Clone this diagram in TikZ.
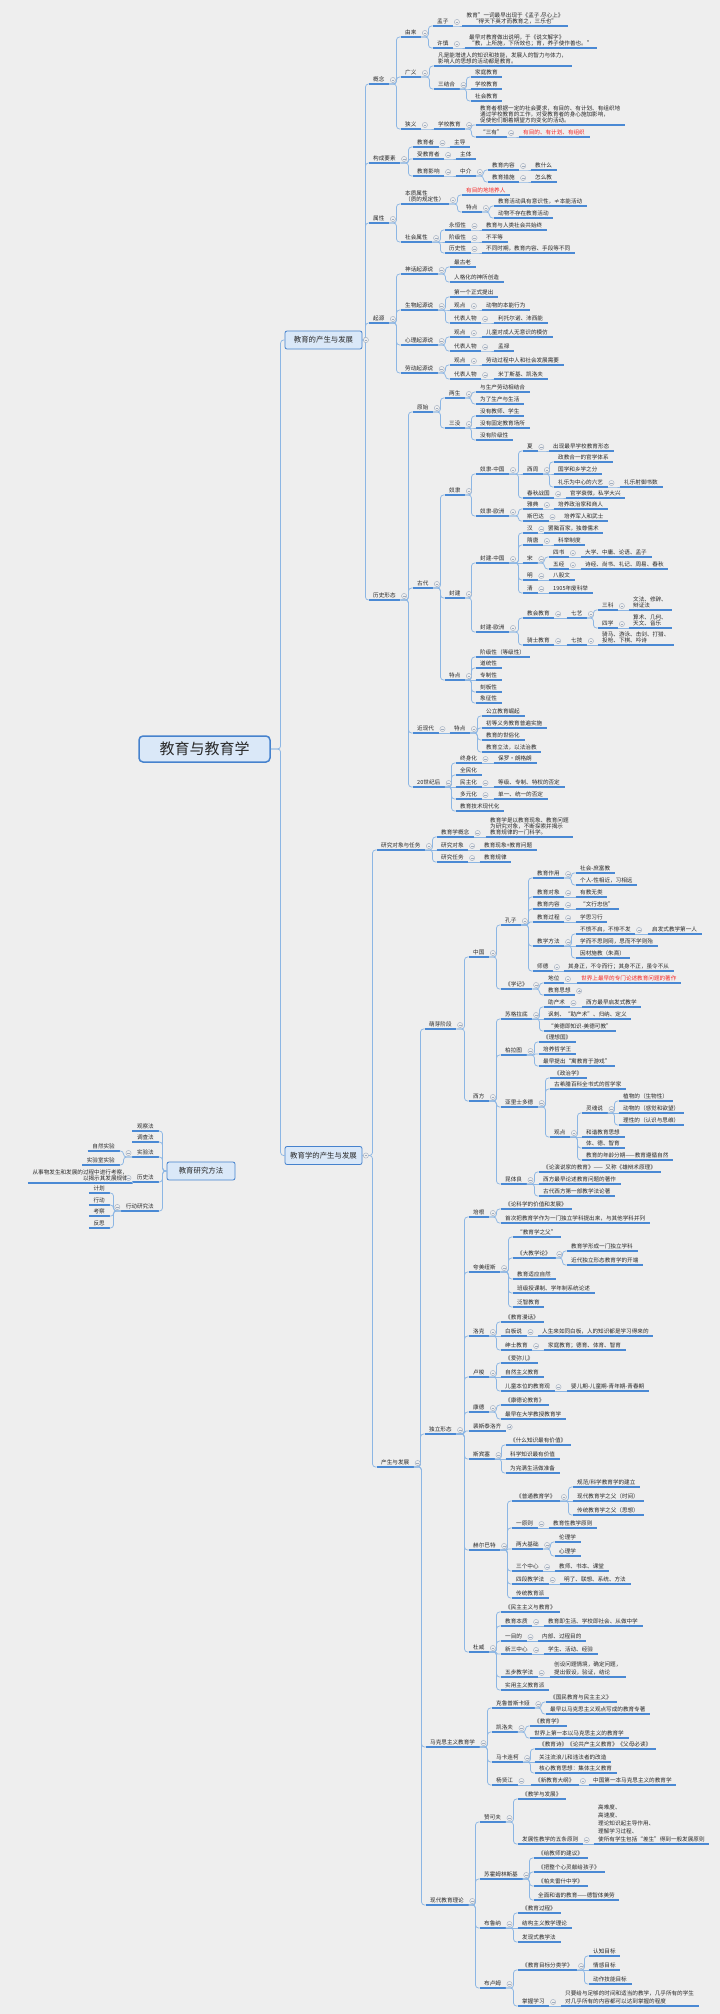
\documentclass[tikz,border=0pt]{standalone}
\usepackage{fontspec}
\setmainfont{Noto Sans CJK SC}
\usetikzlibrary{calc}
\definecolor{bg}{RGB}{238,238,238}
\definecolor{ulc}{RGB}{74,137,212}
\definecolor{cnc}{RGB}{140,182,228}
\definecolor{tgc}{RGB}{160,172,190}
\definecolor{boxf}{RGB}{218,232,248}
\definecolor{boxd}{RGB}{70,130,205}
\definecolor{redt}{RGB}{245,40,40}
\definecolor{txt}{RGB}{40,40,40}
\tikzset{
 nd/.style={inner xsep=4.5pt, inner ysep=1.8pt, text height=4.4pt, text depth=1pt, text=txt, font=\fontsize{5.6}{6}\selectfont},
 ml/.style={align=left, text height={}, text depth={}},
 mlw/.style={align=left, text height={}, text depth={}, font=\fontsize{5.6}{8}\selectfont},
 mc/.style={align=center, text height={}, text depth={}},
 mlr/.style={align=right, text height={}, text depth={}},
 rt/.style={text=redt},
 uline/.style={draw=ulc, line width=1.1pt},
 conn/.style={draw=cnc, line width=0.75pt},
 tgs/.style={draw=tgc, line width=0.4pt},
 lbox/.style={draw=boxd, fill=boxf, rounded corners=2pt, line width=0.8pt, inner xsep=4pt, inner ysep=3pt, minimum width=77pt, minimum height=18pt, text=txt, font=\fontsize{7.4}{8}\selectfont},
 cbox/.style={draw=boxd, fill=boxf, rounded corners=4pt, line width=1.5pt, minimum width=131pt, minimum height=26pt, text=txt, font=\fontsize{15}{16}\selectfont},
}
% node on the right side: #3 = text left x, #4 = underline y
\newcommand\nR[5][]{\node[nd,anchor=south west,#1] (#2) at ({#3-4.5},#4) {#5};\draw[uline] (#2.south west)--(#2.south east);}
% node on the left side: #3 = text right x
\newcommand\nL[5][]{\node[nd,anchor=south east,#1] (#2) at ({#3+4.5},#4) {#5};\draw[uline] (#2.south west)--(#2.south east);}
\newcommand\cnR[2]{\draw[conn] let \p1=(#1), \p2=(#2), \n2={min(4,((\x2)-(\x1))/2)}, \n1={min(3,abs((\y2)-(\y1))/2,\n2)} in (\p1) [rounded corners=\n1] -| ({\x2-\n2*1pt},\y2) -- (\p2);}
\newcommand\cnL[2]{\draw[conn] let \p1=(#1), \p2=(#2), \n2={min(4,((\x1)-(\x2))/2)}, \n1={min(3,abs((\y2)-(\y1))/2,\n2)} in (\p1) [rounded corners=\n1] -| ({\x2+\n2*1pt},\y2) -- (\p2);}
\newcommand\tgR[1]{\draw[tgs,fill=bg] ($(#1.south east)+(3.8,-4)$) circle (2.6pt); \draw[tgs] ($(#1.south east)+(2.4,-4)$) -- ++(2.8pt,0);}
\newcommand\tgP[1]{\tgR{#1}\draw[tgs] ($(#1.south east)+(3.8,-2.6)$) -- ++(0,2.8pt);}
\newcommand\tgL[1]{\draw[tgs,fill=bg] ($(#1.south west)+(-3.8,-4)$) circle (2.6pt); \draw[tgs] ($(#1.south west)+(-5.2,-4)$) -- ++(2.8pt,0);}
\newcommand\tgB[1]{\draw[tgs,fill=bg] ($(#1.east)+(3.5,0)$) circle (2.6pt); \draw[tgs] ($(#1.east)+(2.1,0)$) -- ++(2.8pt,0);}
\newcommand\kR[2]{\foreach \c in {#2}{\cnR{#1.south east}{\c.south west}}\tgR{#1}}
\newcommand\kL[2]{\foreach \c in {#2}{\cnL{#1.south west}{\c.south east}}\tgL{#1}}
\newcommand\kB[2]{\foreach \c in {#2}{\cnR{#1.east}{\c.south west}}\tgB{#1}}
\begin{document}
\begin{tikzpicture}[x=1pt,y=-1pt]
\fill[bg] (0,0) rectangle (720,2014);
\useasboundingbox (0,0) rectangle (720,2014);
% ---------- centre and main boxes
\node[cbox] (C0) at (204.5,749) {教育与教育学};
\node[lbox] (A0) at (323.5,340) {教育的产生与发展};
\node[lbox] (B0) at (323.5,1155.5) {教育学的产生与发展};
\node[lbox,minimum width=68pt] (L0) at (201,1171) {教育研究方法};
\cnR{C0.east}{A0.west}
\cnR{C0.east}{B0.west}
% ---------- group A
\nR{a1}{373}{84}{概念}
\nR{a11}{405}{37}{由来}
\nR{a111}{437}{26}{孟子}
\nR[mc]{a1111}{466.5}{26}{教育”一词最早出现于《孟子.尽心上》\\“得天下英才而教育之，三乐也”}
\nR{a112}{437}{48}{许慎}
\nR[ml]{a1121}{469}{48}{最早对教育做出说明，于《说文解字》\\“教，上所施，下所效也；育，养子使作善也。”}
\nR{a12}{405}{77}{广义}
\nR[ml]{a121}{438}{66}{凡是能增进人的知识和技能，发展人的智力与体力，\\影响人的思想的活动都是教育。}
\nR{a122}{438}{89}{三结合}
\nR{a1221}{475}{77}{家庭教育}
\nR{a1222}{475}{89}{学校教育}
\nR{a1223}{475}{101}{社会教育}
\nR{a13}{405}{129}{狭义}
\nR{a131}{438}{129}{学校教育}
\nR[ml]{a1311}{480}{125}{教育者根据一定的社会要求，有目的、有计划、有组织地\\通过学校教育的工作，对受教育者的身心施加影响，\\促使他们朝着期望方向变化的活动。}
\nR{a1312}{480}{137}{“三有”}
\nR[rt]{a13121}{523}{137}{有目的、有计划、有组织}
\nR{a2}{373}{163}{构成要素}
\nR{a21}{417}{147}{教育者}
\nR{a211}{454}{147}{主导}
\nR{a22}{417}{159}{受教育者}
\nR{a221}{460}{159}{主体}
\nR{a23}{417}{176}{教育影响}
\nR{a231}{460}{176}{中介}
\nR{a2311}{492}{170}{教育内容}
\nR{a23111}{535}{170}{教什么}
\nR{a2312}{492}{182}{教育措施}
\nR{a23121}{535}{182}{怎么教}
\nR{a3}{373}{223}{属性}
\nR[ml]{a31}{405}{204}{本质属性\\（质的规定性）}
\nR[rt]{a311}{466}{195}{有目的地培养人}
\nR{a312}{466}{212}{特点}
\nR{a3121}{498}{206}{教育活动具有意识性，≠本能活动}
\nR{a3122}{498}{218}{动物不存在教育活动}
\nR{a32}{405}{242}{社会属性}
\nR{a321}{449}{230}{永恒性}
\nR{a3211}{486}{230}{教育与人类社会共始终}
\nR{a322}{449}{242}{阶级性}
\nR{a3221}{486}{242}{不平等}
\nR{a323}{449}{253}{历史性}
\nR{a3231}{486}{253}{不同时期，教育内容、手段等不同}
\nR{a4}{373}{323}{起源}
\nR{a41}{405}{274}{神话起源说}
\nR{a411}{454}{267}{最古老}
\nR{a412}{454}{282}{人格化的神所创造}
\nR{a42}{405}{310}{生物起源说}
\nR{a421}{454}{297}{第一个正式提出}
\nR{a422}{454}{310}{观点}
\nR{a4221}{486}{310}{动物的本能行为}
\nR{a423}{454}{323}{代表人物}
\nR{a4231}{498}{323}{利托尔诺、沛西能}
\nR{a43}{405}{345}{心理起源说}
\nR{a431}{454}{337}{观点}
\nR{a4311}{486}{337}{儿童对成人无意识的模仿}
\nR{a432}{454}{351}{代表人物}
\nR{a4321}{498}{351}{孟禄}
\nR{a44}{405}{373}{劳动起源说}
\nR{a441}{454}{365}{观点}
\nR{a4411}{486}{365}{劳动过程中人和社会发展需要}
\nR{a442}{454}{379}{代表人物}
\nR{a4421}{498}{379}{米丁斯基、凯洛夫}
\nR{a5}{373}{600}{历史形态}
\nR{a51}{417}{412}{原始}
\nR{a511}{449}{398}{两生}
\nR{a5111}{480}{392}{与生产劳动相结合}
\nR{a5112}{480}{404}{为了生产与生活}
\nR{a512}{449}{428}{三没}
\nR{a5121}{480}{416}{没有教师、学生}
\nR{a5122}{480}{428}{没有固定教育场所}
\nR{a5123}{480}{440}{没有阶级性}
\nR{a52}{417}{588}{古代}
\nR{a521}{449}{495}{奴隶}
\nR{a5211}{480}{474}{奴隶-中国}
\nR{xia}{527}{451}{夏}
\nR{xia1}{553}{451}{出现最早学校教育形态}
\nR{xz}{527}{474}{西周}
\nR{xz1}{558}{462}{政教合一的官学体系}
\nR{xz2}{558}{474}{国学和乡学之分}
\nR{xz3}{558}{487}{礼乐为中心的六艺}
\nR{xz31}{624}{487}{礼乐射御书数}
\nR{cq}{527}{498}{春秋战国}
\nR{cq1}{570}{498}{官学衰微，私学大兴}
\nR{a5212}{480}{516}{奴隶-欧洲}
\nR{yd}{527}{509}{雅典}
\nR{yd1}{558}{509}{培养政治家和商人}
\nR{sbd}{527}{521}{斯巴达}
\nR{sbd1}{564}{521}{培养军人和武士}
\nR{a522}{449}{598}{封建}
\nR{a5221}{480}{563}{封建-中国}
\nR{han}{527}{533}{汉}
\nR{han1}{548}{533}{罢黜百家，独尊儒术}
\nR{st}{527}{545}{隋唐}
\nR{st1}{558}{545}{科举制度}
\nR{song}{527}{563}{宋}
\nR{ss}{553}{557}{四书}
\nR{ss1}{585}{557}{大学、中庸、论语、孟子}
\nR{wj}{553}{569}{五经}
\nR{wj1}{585}{569}{诗经、尚书、礼记、周易、春秋}
\nR{ming}{527}{580}{明}
\nR{ming1}{553}{580}{八股文}
\nR{qing}{527}{593}{清}
\nR{qing1}{553}{593}{1905年废科举}
\nR{a5222}{480}{632}{封建-欧洲}
\nR{jh}{527}{618}{教会教育}
\nR{qy}{571}{618}{七艺}
\nR{sk}{602}{610}{三科}
\nR[ml]{sk1}{633}{610}{文法、修辞、\\辩证法}
\nR{sx}{602}{628}{四学}
\nR[ml]{sx1}{633}{628}{算术、几何、\\天文、音乐}
\nR{qs}{527}{645}{骑士教育}
\nR{qj}{571}{645}{七技}
\nR[ml]{qj1}{602}{645}{骑马、游泳、击剑、打猎、\\投枪、下棋、吟诗}
\nR{a523}{449}{680}{特点}
\nR{td1}{480}{657}{阶级性（等级性）}
\nR{td2}{480}{668}{道统性}
\nR{td3}{480}{680}{专制性}
\nR{td4}{480}{692}{刻板性}
\nR{td5}{480}{703}{象征性}
\nR{a53}{417}{733}{近现代}
\nR{a531}{454}{733}{特点}
\nR{jx1}{486}{716}{公立教育崛起}
\nR{jx2}{486}{728}{初等义务教育普遍实施}
\nR{jx3}{486}{740}{教育的世俗化}
\nR{jx4}{486}{752}{教育立法，以法治教}
\nR{a54}{417}{787}{20世纪后}
\nR{e1}{460}{763}{终身化}
\nR{e11}{498}{763}{保罗·朗格朗}
\nR{e2}{460}{775}{全民化}
\nR{e3}{460}{787}{民主化}
\nR{e31}{498}{787}{等级、专制、特权的否定}
\nR{e4}{460}{799}{多元化}
\nR{e41}{498}{799}{单一、统一的否定}
\nR{e5}{460}{811}{教育技术现代化}
\kB{A0}{a1,a2,a3,a4,a5}
\kR{a1}{a11,a12,a13}\kR{a11}{a111,a112}\kR{a111}{a1111}\kR{a112}{a1121}
\kR{a12}{a121,a122}\kR{a122}{a1221,a1222,a1223}\kR{a13}{a131}\kR{a131}{a1311,a1312}\kR{a1312}{a13121}
\kR{a2}{a21,a22,a23}\kR{a21}{a211}\kR{a22}{a221}\kR{a23}{a231}\kR{a231}{a2311,a2312}\kR{a2311}{a23111}\kR{a2312}{a23121}
\kR{a3}{a31,a32}\kR{a31}{a311,a312}\kR{a312}{a3121,a3122}\kR{a32}{a321,a322,a323}\kR{a321}{a3211}\kR{a322}{a3221}\kR{a323}{a3231}
\kR{a4}{a41,a42,a43,a44}\kR{a41}{a411,a412}\kR{a42}{a421,a422,a423}\kR{a422}{a4221}\kR{a423}{a4231}\kR{a43}{a431,a432}\kR{a431}{a4311}\kR{a432}{a4321}\kR{a44}{a441,a442}\kR{a441}{a4411}\kR{a442}{a4421}
\kR{a5}{a51,a52,a53,a54}\kR{a51}{a511,a512}\kR{a511}{a5111,a5112}\kR{a512}{a5121,a5122,a5123}
\kR{a52}{a521,a522,a523}\kR{a521}{a5211,a5212}\kR{a5211}{xia,xz,cq}\kR{xia}{xia1}\kR{xz}{xz1,xz2,xz3}\kR{xz3}{xz31}\kR{cq}{cq1}\kR{a5212}{yd,sbd}\kR{yd}{yd1}\kR{sbd}{sbd1}
\kR{a522}{a5221,a5222}\kR{a5221}{han,st,song,ming,qing}\kR{han}{han1}\kR{st}{st1}\kR{song}{ss,wj}\kR{ss}{ss1}\kR{wj}{wj1}\kR{ming}{ming1}\kR{qing}{qing1}
\kR{a5222}{jh,qs}\kR{jh}{qy}\kR{qy}{sk,sx}\kR{sk}{sk1}\kR{sx}{sx1}\kR{qs}{qj}\kR{qj}{qj1}
\kR{a523}{td1,td2,td3,td4,td5}
\kR{a53}{a531}\kR{a531}{jx1,jx2,jx3,jx4}
\kR{a54}{e1,e2,e3,e4,e5}\kR{e1}{e11}\kR{e3}{e31}\kR{e4}{e41}
% ---------- group B
\nR{b1}{381}{850}{研究对象与任务}
\nR{b11}{441}{837}{教育学概念}
\nR[ml]{b111}{490}{837}{教育学是以教育现象、教育问题\\为研究对象，不断探索并揭示\\教育规律的一门科学。}
\nR{b12}{441}{850}{研究对象}
\nR{b121}{484}{850}{教育现象+教育问题}
\nR{b13}{441}{862}{研究任务}
\nR{b131}{484}{862}{教育规律}
\nR{b2}{381}{1467}{产生与发展}
\nR{b21}{429}{1029}{萌芽阶段}
\nR{zg}{473}{957}{中国}
\nR{kz}{505}{925}{孔子}
\nR{kz1}{537}{878}{教育作用}
\nR{kz11}{580}{873}{社会-庶富教}
\nR{kz12}{580}{885}{个人-性相近，习相远}
\nR{kz2}{537}{897}{教育对象}
\nR{kz21}{580}{897}{有教无类}
\nR{kz3}{537}{909}{教育内容}
\nR{kz31}{580}{909}{“文行忠信”}
\nR{kz4}{537}{922}{教育过程}
\nR{kz41}{580}{922}{学思习行}
\nR{kz5}{537}{946}{教学方法}
\nR{kz51}{580}{934}{不愤不启，不悱不发}
\nR{kz511}{652}{934}{启发式教学第一人}
\nR{kz52}{580}{946}{学而不思则罔，思而不学则殆}
\nR{kz53}{580}{958}{因材施教（朱熹）}
\nR{kz6}{537}{971}{师德}
\nR{kz61}{568}{971}{其身正，不令而行；其身不正，虽令不从}
\nR{xj}{505}{989}{《学记》}
\nR{xj1}{548}{983}{地位}
\nR[rt]{xj11}{581}{983}{世界上最早的专门论述教育问题的著作}
\nR{xj2}{548}{995}{教育思想}
\nR{xf}{473}{1101}{西方}
\nR{sgl}{505}{1019}{苏格拉底}
\nR{sgl1}{548}{1007}{助产术}
\nR{sgl11}{586}{1007}{西方最早启发式教学}
\nR{sgl2}{548}{1019}{讽刺、“助产术”、归纳、定义}
\nR{sgl3}{548}{1031}{“美德即知识-美德可教”}
\nR{blt}{505}{1055}{柏拉图}
\nR{blt1}{543}{1042}{《理想国》}
\nR{blt2}{543}{1054}{培养哲学王}
\nR{blt3}{543}{1066}{最早提出“寓教育于游戏”}
\nR{ylsd}{505}{1107}{亚里士多德}
\nR{ylsd1}{554}{1078}{《政治学》}
\nR{ylsd2}{554}{1089}{古希腊百科全书式的哲学家}
\nR{ylsd3}{554}{1137}{观点}
\nR{lhs}{586}{1113}{灵魂说}
\nR{lhs1}{623}{1101}{植物的（生物性）}
\nR{lhs2}{623}{1113}{动物的（感觉和欲望）}
\nR{lhs3}{623}{1125}{理性的（认识与思维）}
\nR{hx}{586}{1137}{和谐教育思想}
\nR{tdz}{586}{1148}{体、德、智育}
\nR{nlfq}{586}{1160}{教育的年龄分期——教育遵循自然}
\nR{ktl}{505}{1184}{昆体良}
\nR{ktl1}{543}{1172}{《论演说家的教育》——\ \ 又称《雄辩术原理》}
\nR{ktl2}{543}{1184}{西方最早论述教育问题的著作}
\nR{ktl3}{543}{1196}{古代西方第一部教学法论著}
\nR{b22}{429}{1434}{独立形态}
\nR{pg}{473}{1217}{培根}
\nR{pg1}{505}{1209}{《论科学的价值和发展》}
\nR{pg2}{505}{1223}{首次把教育学作为一门独立学科提出来，与其他学科并列}
\nR{kmns}{473}{1272}{夸美纽斯}
\nR{km1}{517}{1237}{“教育学之父”}
\nR{km2}{517}{1258}{《大教学论》}
\nR{km21}{571}{1251}{教育学形成一门独立学科}
\nR{km22}{571}{1265}{近代独立形态教育学的开端}
\nR{km3}{517}{1279}{教育适应自然}
\nR{km4}{517}{1293}{班级授课制、学年制系统论述}
\nR{km5}{517}{1307}{泛智教育}
\nR{lk}{473}{1336}{洛克}
\nR{lk1}{505}{1322}{《教育漫话》}
\nR{lk2}{505}{1336}{白板说}
\nR{lk21}{542}{1336}{人生来如同白板，人的知识都是学习得来的}
\nR{lk3}{505}{1350}{绅士教育}
\nR{lk31}{548}{1350}{家庭教育；德育、体育、智育}
\nR{ls}{473}{1377}{卢梭}
\nR{ls1}{505}{1363}{《爱弥儿》}
\nR{ls2}{505}{1377}{自然主义教育}
\nR{ls3}{505}{1391}{儿童本位的教育观}
\nR{ls31}{571}{1391}{婴儿期-儿童期-青年期-青春期}
\nR{kd}{473}{1412}{康德}
\nR{kd1}{505}{1405}{《康德论教育》}
\nR{kd2}{505}{1419}{最早在大学教授教育学}
\nR{psll}{473}{1431}{裴斯泰洛齐}
\nR{sbs}{473}{1459}{斯宾塞}
\nR{sbs1}{510}{1445}{《什么知识最有价值》}
\nR{sbs2}{510}{1459}{科学知识最有价值}
\nR{sbs3}{510}{1473}{为完满生活做准备}
\nR{hebt}{473}{1550}{赫尔巴特}
\nR{hb1}{516}{1501}{《普通教育学》}
\nR{hb11}{577}{1487}{规范/科学教育学的建立}
\nR{hb12}{577}{1501}{现代教育学之父（时间）}
\nR{hb13}{577}{1515}{传统教育学之父（思想）}
\nR{hb2}{516}{1528}{一原则}
\nR{hb21}{553}{1528}{教育性教学原则}
\nR{hb3}{516}{1549}{两大基础}
\nR{hb31}{559}{1542}{伦理学}
\nR{hb32}{559}{1556}{心理学}
\nR{hb4}{516}{1571}{三个中心}
\nR{hb41}{559}{1571}{教师、书本、课堂}
\nR{hb5}{516}{1584}{四段教学法}
\nR{hb51}{564}{1584}{明了、联想、系统、方法}
\nR{hb6}{516}{1598}{传统教育派}
\nR{dw}{473}{1652}{杜威}
\nR{dw1}{505}{1612}{《民主主义与教育》}
\nR{dw2}{505}{1626}{教育本质}
\nR{dw21}{548}{1626}{教育即生活、学校即社会、从做中学}
\nR{dw3}{505}{1641}{一目的}
\nR{dw31}{542}{1641}{内部、过程目的}
\nR{dw4}{505}{1654}{新三中心}
\nR{dw41}{548}{1654}{学生、活动、经验}
\nR{dw5}{505}{1677}{五步教学法}
\nR[mlw]{dw51}{554}{1677}{创设问题情境，确定问题，\\提出假设，验证，结论}
\nR{dw6}{505}{1690}{实用主义教育派}
\nR{b23}{430}{1747}{马克思主义教育学}
\nR{klps}{496}{1708}{克鲁普斯卡娅}
\nR{kl1}{550}{1702}{《国民教育与民主主义》}
\nR{kl2}{550}{1714}{最早以马克思主义观点写成的教育专著}
\nR{klf}{496}{1732}{凯洛夫}
\nR{klf1}{534}{1726}{《教育学》}
\nR{klf2}{534}{1738}{世界上第一本以马克思主义的教育学}
\nR{mklk}{496}{1762}{马卡连柯}
\nR{mk1}{539}{1749}{《教育诗》《论共产主义教育》《父母必读》}
\nR{mk2}{539}{1762}{关注流浪儿和违法者的改造}
\nR{mk3}{539}{1773}{核心教育思想：集体主义教育}
\nR{yxj}{496}{1785}{杨贤江}
\nR{yx1}{535}{1785}{《新教育大纲》}
\nR{yx11}{593}{1785}{中国第一本马克思主义的教育学}
\nR{b24}{430}{1905}{现代教育理论}
\nR{zkf}{484}{1822}{赞可夫}
\nR{zk1}{522}{1799}{《教学与发展》}
\nR{zk2}{522}{1844}{发展性教学的五条原则}
\nR[mlw]{zk21}{598}{1844}{高难度、\\高速度、\\理论知识起主导作用、\\理解学习过程、\\使所有学生包括“差生”得到一般发展原则}
\nR{shml}{484}{1879}{苏霍姆林斯基}
\nR{sh1}{538}{1858}{《给教师的建议》}
\nR{sh2}{538}{1872}{《把整个心灵献给孩子》}
\nR{sh3}{538}{1886}{《帕夫雷什中学》}
\nR{sh4}{538}{1900}{全面和谐的教育——德智体美劳}
\nR{bln}{484}{1928}{布鲁纳}
\nR{bl1}{522}{1913}{《教育过程》}
\nR{bl2}{522}{1928}{结构主义教学理论}
\nR{bl3}{522}{1942}{发现式教学法}
\nR{blm}{484}{1988}{布卢姆}
\nR{bm1}{522}{1970}{《教育目标分类学》}
\nR{bm11}{593}{1956}{认知目标}
\nR{bm12}{593}{1970}{情感目标}
\nR{bm13}{593}{1984}{动作技能目标}
\nR{bm2}{522}{2006}{掌握学习}
\nR[mlw]{bm21}{565}{2006}{只要给与足够的时间和适当的教学，几乎所有的学生\\对几乎所有的内容都可以达到掌握的程度}
\kB{B0}{b1,b2}
\kR{b1}{b11,b12,b13}\kR{b11}{b111}\kR{b12}{b121}\kR{b13}{b131}
\kR{b2}{b21,b22,b23,b24}
\kR{b21}{zg,xf}\kR{zg}{kz,xj}\kR{kz}{kz1,kz2,kz3,kz4,kz5,kz6}\kR{kz1}{kz11,kz12}\kR{kz2}{kz21}\kR{kz3}{kz31}\kR{kz4}{kz41}\kR{kz5}{kz51,kz52,kz53}\kR{kz51}{kz511}\kR{kz6}{kz61}
\kR{xj}{xj1,xj2}\kR{xj1}{xj11}\tgP{xj2}
\kR{xf}{sgl,blt,ylsd,ktl}\kR{sgl}{sgl1,sgl2,sgl3}\kR{sgl1}{sgl11}\kR{blt}{blt1,blt2,blt3}\kR{ylsd}{ylsd1,ylsd2,ylsd3}\kR{ylsd3}{lhs,hx,tdz,nlfq}\kR{lhs}{lhs1,lhs2,lhs3}\kR{ktl}{ktl1,ktl2,ktl3}
\kR{b22}{pg,kmns,lk,ls,kd,psll,sbs,hebt,dw}\kR{pg}{pg1,pg2}\kR{kmns}{km1,km2,km3,km4,km5}\kR{km2}{km21,km22}\kR{lk}{lk1,lk2,lk3}\kR{lk2}{lk21}\kR{lk3}{lk31}\kR{ls}{ls1,ls2,ls3}\kR{ls3}{ls31}\kR{kd}{kd1,kd2}\tgP{psll}\kR{sbs}{sbs1,sbs2,sbs3}
\kR{hebt}{hb1,hb2,hb3,hb4,hb5,hb6}\kR{hb1}{hb11,hb12,hb13}\kR{hb2}{hb21}\kR{hb3}{hb31,hb32}\kR{hb4}{hb41}\kR{hb5}{hb51}
\kR{dw}{dw1,dw2,dw3,dw4,dw5,dw6}\kR{dw2}{dw21}\kR{dw3}{dw31}\kR{dw4}{dw41}\kR{dw5}{dw51}
\kR{b23}{klps,klf,mklk,yxj}\kR{klps}{kl1,kl2}\kR{klf}{klf1,klf2}\kR{mklk}{mk1,mk2,mk3}\kR{yxj}{yx1}\kR{yx1}{yx11}
\kR{b24}{zkf,shml,bln,blm}\kR{zkf}{zk1,zk2}\kR{zk2}{zk21}\kR{shml}{sh1,sh2,sh3,sh4}\kR{bln}{bl1,bl2,bl3}\kR{blm}{bm1,bm2}\kR{bm1}{bm11,bm12,bm13}\kR{bm2}{bm21}
% ---------- left group
\nL{m1}{154}{1131}{观察法}
\nL{m2}{154}{1142}{调查法}
\nL{m3}{154}{1157}{实验法}
\nL{m31}{115}{1151}{自然实验}
\nL{m32}{115}{1165}{实验室实验}
\nL{m4}{154}{1182}{历史法}
\nL[mlr]{m41}{128}{1183}{从事物发生和发展的过程中进行考察，\\以揭示其发展规律}
\nL{m5}{154}{1211}{行动研究法}
\nL{m51}{105}{1193}{计划}
\nL{m52}{105}{1205}{行动}
\nL{m53}{105}{1216}{考察}
\nL{m54}{105}{1228}{反思}
\foreach \c in {m1,m2,m3,m4,m5}{\cnL{L0.west}{\c.south east}}
\kL{m3}{m31,m32}\kL{m4}{m41}\kL{m5}{m51,m52,m53,m54}
\end{tikzpicture}
\end{document}
